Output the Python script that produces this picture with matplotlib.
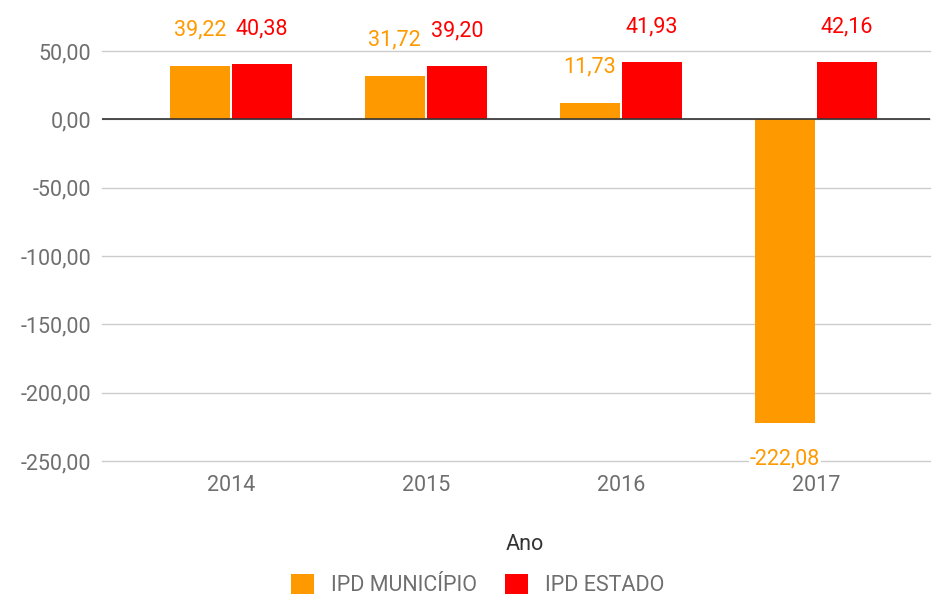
import matplotlib
matplotlib.use("Agg")
import matplotlib.pyplot as plt
import numpy as np

plt.rcParams['font.family'] = ['Roboto', 'DejaVu Sans']

years = ["2014", "2015", "2016", "2017"]
ipd_municipio = [39.22, 31.72, 11.73, -222.08]
ipd_estado = [40.38, 39.20, 41.93, 42.16]
yticks = [50, 0, -50, -100, -150, -200, -250]

c_mun = "#FF9900"
c_est = "#FF0000"
gray = "#6f6f6f"
fs = 15.5

def fmt(v):
    return f"{v:.2f}".replace(".", ",")

fig = plt.figure(figsize=(9.34, 5.99), dpi=100)
ax = fig.add_axes([102/934, 1-461/599, (930-102)/934, (461-51)/599])

x = np.arange(len(years))
w = 0.31
off = 0.16
b1 = ax.bar(x - off, ipd_municipio, w, color=c_mun, zorder=3, label="IPD MUNICÍPIO")
b2 = ax.bar(x + off, ipd_estado, w, color=c_est, zorder=3, label="IPD ESTADO")

ax.set_ylim(-250, 50)
ax.set_xlim(-(231-102)/195, 3 + (930-816)/195)
ax.set_yticks(yticks)
ax.set_yticklabels([fmt(v) for v in yticks])
ax.set_xticks(x)
ax.set_xticklabels(years)
ax.tick_params(axis='both', length=0, labelsize=fs, colors=gray)
ax.tick_params(axis='y', pad=8)
ax.tick_params(axis='x', pad=10)
ax.grid(axis='y', color="#cccccc", linewidth=1, zorder=0)
for gl in ax.get_ygridlines():
    gl.set_clip_on(False)
ax.axhline(0, color="#333333", linewidth=1.2, zorder=4)
for s in ax.spines.values():
    s.set_visible(False)

for xi, v in zip(x, ipd_municipio):
    dy = 26 if v >= 0 else -26
    ax.annotate(fmt(v), (xi - off, v), xytext=(0, dy), textcoords="offset points",
                ha="center", va="center", color=c_mun, fontsize=fs, zorder=5,
                annotation_clip=False,
                bbox=dict(facecolor="white", edgecolor="none", pad=0.5) if v < 0 else None)
for xi, v in zip(x, ipd_estado):
    ax.annotate(fmt(v), (xi + off, v), xytext=(0, 25), textcoords="offset points",
                ha="center", va="center", color=c_est, fontsize=fs, zorder=5,
                annotation_clip=False)

fig.text(525/934, 1-545/599, "Ano", ha="center", va="center", fontsize=fs, color="#333333")

leg = fig.legend(handles=[b1, b2], loc="center", bbox_to_anchor=(478/934, 1-585/599),
                 ncol=2, frameon=False, fontsize=fs, handlelength=1.05, handleheight=1.05,
                 columnspacing=1.3, handletextpad=0.8, borderpad=0, borderaxespad=0)
for t in leg.get_texts():
    t.set_color(gray)

fig.savefig("out.png", dpi=100)
